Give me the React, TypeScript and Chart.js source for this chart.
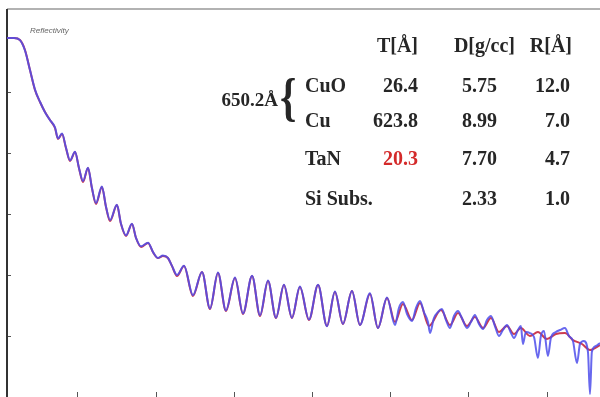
import React, { useEffect, useRef } from "react";
import { Chart, registerables } from "chart.js";

Chart.register(...registerables);

// 2-theta (deg) and log10(reflectivity)
const fitX = [0.05, 0.095, 0.133, 0.165, 0.197, 0.229, 0.261, 0.293, 0.325, 0.357, 0.376, 0.402, 0.427, 0.453, 0.485, 0.51, 0.536, 0.568, 0.593, 0.619, 0.657, 0.683, 0.709, 0.753, 0.779, 0.811, 0.849, 0.875, 0.907, 0.952, 0.983, 1.015, 1.047, 1.079, 1.105, 1.137, 1.182, 1.239, 1.297, 1.348, 1.399, 1.45, 1.508, 1.559, 1.617, 1.668, 1.719, 1.77, 1.821, 1.872, 1.923, 1.981, 2.039, 2.096, 2.147, 2.198, 2.256, 2.307, 2.371, 2.422, 2.48, 2.531, 2.582, 2.64, 2.691, 2.748, 2.825, 2.883, 2.934, 2.991, 3.042, 3.094, 3.145, 3.196, 3.247, 3.292, 3.336, 3.394, 3.445, 3.503, 3.56, 3.618, 3.669, 3.727, 3.778, 3.842];
const fitY = [-0.115, -0.115, -0.148, -0.311, -0.639, -0.967, -1.164, -1.328, -1.459, -1.59, -1.77, -1.689, -1.918, -2.131, -1.984, -2.246, -2.475, -2.246, -2.574, -2.836, -2.557, -2.885, -3.115, -2.852, -3.164, -3.361, -3.164, -3.393, -3.541, -3.475, -3.623, -3.721, -3.689, -3.721, -3.852, -4.016, -3.852, -4.344, -3.951, -4.557, -3.967, -4.59, -4.049, -4.639, -4.016, -4.672, -4.098, -4.705, -4.164, -4.705, -4.197, -4.738, -4.164, -4.836, -4.279, -4.803, -4.262, -4.82, -4.311, -4.869, -4.377, -4.77, -4.475, -4.738, -4.459, -4.836, -4.574, -4.82, -4.623, -4.836, -4.689, -4.869, -4.705, -4.934, -4.836, -4.967, -4.869, -5.0, -4.934, -5.049, -4.967, -4.951, -5.066, -5.131, -5.23, -5.148];

const measX = [0.05, 0.095, 0.133, 0.165, 0.197, 0.229, 0.261, 0.293, 0.325, 0.357, 0.376, 0.402, 0.427, 0.453, 0.485, 0.51, 0.536, 0.568, 0.593, 0.619, 0.657, 0.683, 0.709, 0.753, 0.779, 0.811, 0.849, 0.875, 0.907, 0.952, 0.983, 1.015, 1.047, 1.079, 1.105, 1.137, 1.182, 1.239, 1.297, 1.348, 1.399, 1.45, 1.508, 1.559, 1.617, 1.668, 1.719, 1.77, 1.821, 1.872, 1.923, 1.981, 2.039, 2.096, 2.147, 2.198, 2.256, 2.307, 2.371, 2.422, 2.48, 2.531, 2.556, 2.582, 2.608, 2.64, 2.665, 2.691, 2.716, 2.742, 2.755, 2.78, 2.806, 2.831, 2.857, 2.883, 2.908, 2.934, 2.959, 2.991, 3.017, 3.042, 3.068, 3.094, 3.119, 3.145, 3.17, 3.196, 3.221, 3.247, 3.273, 3.292, 3.317, 3.336, 3.349, 3.368, 3.394, 3.42, 3.445, 3.464, 3.484, 3.509, 3.528, 3.56, 3.586, 3.618, 3.643, 3.669, 3.695, 3.714, 3.739, 3.765, 3.778, 3.79, 3.816, 3.842];
const measY = [-0.115, -0.115, -0.15, -0.32, -0.64, -0.96, -1.16, -1.33, -1.46, -1.58, -1.76, -1.68, -1.91, -2.12, -1.98, -2.24, -2.46, -2.24, -2.57, -2.82, -2.55, -2.88, -3.1, -2.85, -3.16, -3.35, -3.16, -3.39, -3.53, -3.47, -3.62, -3.72, -3.68, -3.72, -3.85, -4.0, -3.85, -4.33, -3.95, -4.55, -3.96, -4.58, -4.04, -4.63, -4.01, -4.66, -4.09, -4.7, -4.16, -4.7, -4.19, -4.73, -4.16, -4.84, -4.27, -4.8, -4.26, -4.82, -4.3, -4.87, -4.37, -4.82, -4.541, -4.443, -4.639, -4.754, -4.541, -4.426, -4.607, -4.77, -4.951, -4.705, -4.607, -4.557, -4.738, -4.869, -4.672, -4.59, -4.705, -4.869, -4.77, -4.656, -4.803, -4.885, -4.738, -4.672, -4.836, -5.0, -4.902, -4.82, -4.951, -5.033, -4.902, -4.836, -5.131, -4.934, -4.951, -5.016, -5.361, -5.0, -4.918, -5.328, -5.033, -4.934, -4.902, -4.869, -5.0, -5.082, -5.443, -5.131, -5.082, -5.262, -5.951, -5.262, -5.164, -5.115];

const xTicks = [0.5, 1.0, 1.5, 2.0, 2.5, 3.0, 3.5];
const yTicks = [-1, -2, -3, -4, -5];

const headers = ["T[Å]", "D[g/cc]", "R[Å]"];
const layers = ["CuO", "Cu", "TaN", "Si Subs."];
const thickness = ["26.4", "623.8", "20.3", ""];
const density = ["5.75", "8.99", "7.70", "2.33"];
const roughness = ["12.0", "7.0", "4.7", "1.0"];
const totalLabel = "650.2Å";

const framePlugin = {
  id: "frame",
  beforeDatasetsDraw(chart: any) {
    const { ctx, chartArea, scales } = chart;
    ctx.save();
    ctx.strokeStyle = "#555";
    ctx.lineWidth = 1;
    xTicks.forEach((v) => {
      const px = Math.round(scales.x.getPixelForValue(v)) + 0.5;
      ctx.beginPath();
      ctx.moveTo(px, chartArea.bottom + 2);
      ctx.lineTo(px, chartArea.bottom - 3);
      ctx.stroke();
    });
    yTicks.forEach((v) => {
      const py = Math.round(scales.y.getPixelForValue(v)) + 0.5;
      ctx.beginPath();
      ctx.moveTo(chartArea.left, py);
      ctx.lineTo(chartArea.left + 4, py);
      ctx.stroke();
    });
    ctx.strokeStyle = "#999";
    ctx.lineWidth = 1.5;
    ctx.beginPath();
    ctx.moveTo(chartArea.left, chartArea.top);
    ctx.lineTo(chartArea.right, chartArea.top);
    ctx.stroke();
    ctx.strokeStyle = "#333";
    ctx.lineWidth = 2;
    ctx.beginPath();
    ctx.moveTo(chartArea.left, chartArea.top);
    ctx.lineTo(chartArea.left, chartArea.bottom + 2);
    ctx.stroke();
    ctx.restore();
  },
};

const serif = "'Liberation Serif', 'Times New Roman', serif";
const FS = 20;

function Txt(props: { text: string; cy: number; left?: number; right?: number; color?: string; fs?: number }) {
  const fs = props.fs || FS;
  const style: any = {
    position: "absolute",
    top: props.cy - fs / 2,
    fontFamily: serif,
    fontWeight: "bold",
    fontSize: fs,
    lineHeight: fs + "px",
    color: props.color || "#262626",
    whiteSpace: "nowrap",
  };
  if (props.left !== undefined) style.left = props.left;
  if (props.right !== undefined) style.right = 600 - props.right;
  return <span style={style}>{props.text}</span>;
}

export default function App() {
  const ref = useRef<HTMLCanvasElement | null>(null);
  useEffect(() => {
    if (!ref.current) return;
    const chart = new Chart(ref.current, {
      type: "line",
      data: {
        datasets: [
          {
            label: "Fit",
            data: fitX.map((x, i) => ({ x, y: fitY[i] })),
            borderColor: "rgb(205,60,80)",
            borderWidth: 2,
            pointRadius: 0,
            cubicInterpolationMode: "monotone",
            order: 2,
          },
          {
            label: "Measured",
            data: measX.map((x, i) => ({ x, y: measY[i] })),
            borderColor: "rgba(78,78,235,0.85)",
            borderWidth: 2,
            pointRadius: 0,
            cubicInterpolationMode: "monotone",
            order: 1,
          },
        ],
      },
      options: {
        animation: false,
        responsive: false,
        parsing: false as any,
        layout: { padding: { left: 7, top: 9, right: 0, bottom: 2 } },
        plugins: { legend: { display: false }, tooltip: { enabled: false } },
        scales: {
          x: { type: "linear", min: 0.05, max: 3.842, display: false },
          y: { type: "linear", min: -5.967, max: 0.361, display: false },
        },
      },
      plugins: [framePlugin],
    });
    return () => chart.destroy();
  }, []);

  const rowsY = [85, 120, 158, 198];
  return (
    <div style={{ position: "fixed", left: 0, top: 0, width: 600, height: 397, background: "#fff", overflow: "hidden" }}>
      <canvas ref={ref} width={600} height={397} style={{ position: "absolute", left: 0, top: 0, width: 600, height: 397 }} />
      <span
        style={{
          position: "absolute",
          left: 30,
          top: 26,
          fontFamily: "'Liberation Sans', Arial, sans-serif",
          fontStyle: "italic",
          fontSize: 8,
          color: "#666",
          lineHeight: "10px",
        }}
      >
        Reflectivity
      </span>
      <Txt text={headers[0]} cy={45} right={418} />
      <Txt text={headers[1]} cy={45} right={515} />
      <Txt text={headers[2]} cy={45} right={572} />
      {layers.map((l, i) => (
        <React.Fragment key={l}>
          <Txt text={l} cy={rowsY[i]} left={305} />
          {thickness[i] && <Txt text={thickness[i]} cy={rowsY[i]} right={418} color={i === 2 ? "#d42a2a" : undefined} />}
          <Txt text={density[i]} cy={rowsY[i]} right={497} />
          <Txt text={roughness[i]} cy={rowsY[i]} right={570} />
        </React.Fragment>
      ))}
      <Txt text={totalLabel} cy={99} right={278} fs={19} />
      <span
        style={{
          position: "absolute",
          left: 280,
          top: 72,
          fontFamily: serif,
          fontWeight: "bold",
          fontSize: 52,
          lineHeight: "52px",
          color: "#262626",
          transform: "scaleX(0.8)",
          transformOrigin: "left top",
        }}
      >
        {"{"}
      </span>
    </div>
  );
}
